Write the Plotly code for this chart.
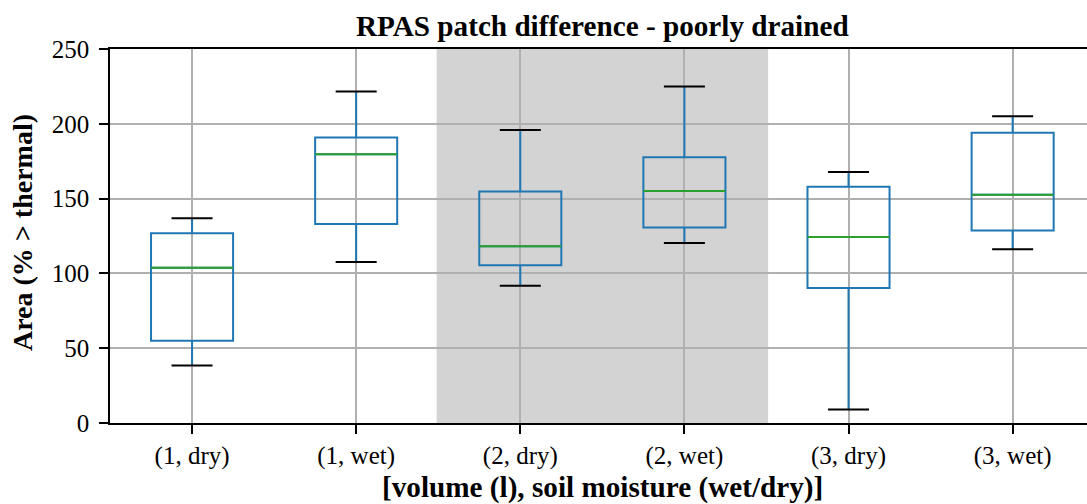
import plotly.graph_objects as go

categories = ["(1, dry)", "(1, wet)", "(2, dry)", "(2, wet)", "(3, dry)", "(3, wet)"]
lower_whisker = [38.4, 107.6, 91.7, 120.3, 9.0, 116.1]
q1_values = [54.9, 133.0, 105.4, 130.6, 90.2, 128.6]
median_values = [103.8, 179.7, 118.1, 155.1, 124.3, 152.5]
q3_values = [126.8, 190.8, 154.7, 177.7, 158.0, 194.0]
upper_whisker = [136.8, 221.6, 195.8, 225.0, 167.8, 205.1]
y_ticks = [0, 50, 100, 150, 200, 250]
highlight_span = [2.49, 4.51]

FONT = "Liberation Serif, Times New Roman, serif"
BLUE = "#1f77b4"
GREEN = "#2ca02c"
positions = list(range(1, len(categories) + 1))
box_w = 0.5
cap_w = box_w / 2

fig = go.Figure()

fig.add_trace(go.Box(
    x=positions, q1=q1_values, median=median_values, q3=q3_values,
    lowerfence=lower_whisker, upperfence=upper_whisker,
    width=box_w, whiskerwidth=0, boxpoints=False,
    line=dict(color=BLUE, width=2), fillcolor="rgba(0,0,0,0)",
    showlegend=False, hoverinfo="skip",
))

mx, my = [], []
for p, m in zip(positions, median_values):
    mx += [p - box_w / 2, p + box_w / 2, None]
    my += [m, m, None]
fig.add_trace(go.Scatter(x=mx, y=my, mode="lines", line=dict(color=GREEN, width=2),
                         showlegend=False, hoverinfo="skip"))

cx, cy = [], []
for p, lo, hi in zip(positions, lower_whisker, upper_whisker):
    cx += [p - cap_w / 2, p + cap_w / 2, None, p - cap_w / 2, p + cap_w / 2, None]
    cy += [lo, lo, None, hi, hi, None]
fig.add_trace(go.Scatter(x=cx, y=cy, mode="lines", line=dict(color="black", width=2),
                         showlegend=False, hoverinfo="skip"))

fig.add_shape(type="rect", xref="x", yref="paper", x0=highlight_span[0], x1=highlight_span[1],
              y0=0, y1=1, fillcolor="#d3d3d3", line=dict(width=0), layer="below")

W, H = 1087, 504
ml, mt, mb = 109.5, 49.3, 81.3
plot_w = W - ml
unit = 164.2
x_end = 0.5 + plot_w / unit
plot_h = H - mt - mb

def px_to_paper_x(px):
    return (px - ml) / plot_w

def px_to_paper_y(py):
    return (H - mb - py) / plot_h

fig.update_layout(
    width=W, height=H,
    margin=dict(l=ml, r=0, t=mt, b=mb, pad=0),
    paper_bgcolor="white", plot_bgcolor="white",
    font=dict(family=FONT, color="black"),
    xaxis=dict(range=[0.5, x_end], tickvals=positions, ticktext=categories,
               showgrid=True, gridcolor="#b0b0b0", gridwidth=1.5,
               showline=True, linecolor="black", linewidth=1.5, mirror=True,
               ticks="outside", ticklen=9, tickwidth=1.5, tickcolor="black",
               tickfont=dict(size=25, family=FONT), zeroline=False),
    yaxis=dict(range=[0, 250], tickvals=y_ticks,
               showgrid=True, gridcolor="#b0b0b0", gridwidth=1.5,
               showline=True, linecolor="black", linewidth=1.5, mirror=False,
               ticks="outside", ticklen=9, tickwidth=1.5, tickcolor="black",
               ticklabelstandoff=5,
               tickfont=dict(size=25, family=FONT), zeroline=False),
    annotations=[
        dict(text="<b>RPAS patch difference - poorly drained</b>", xref="paper", yref="paper",
             x=px_to_paper_x(602.5), y=px_to_paper_y(26), xanchor="center", yanchor="middle",
             showarrow=False, font=dict(size=29.2, family=FONT)),
        dict(text="<b>[volume (l), soil moisture (wet/dry)]</b>", xref="paper", yref="paper",
             x=px_to_paper_x(602.5), y=px_to_paper_y(487), xanchor="center", yanchor="middle",
             showarrow=False, font=dict(size=29.2, family=FONT)),
        dict(text="<b>Area (% > thermal)</b>", xref="paper", yref="paper",
             x=px_to_paper_x(22.5), y=px_to_paper_y(233), xanchor="center", yanchor="middle",
             textangle=-90, showarrow=False, font=dict(size=28, family=FONT)),
    ],
)

fig.write_html("out.html")
